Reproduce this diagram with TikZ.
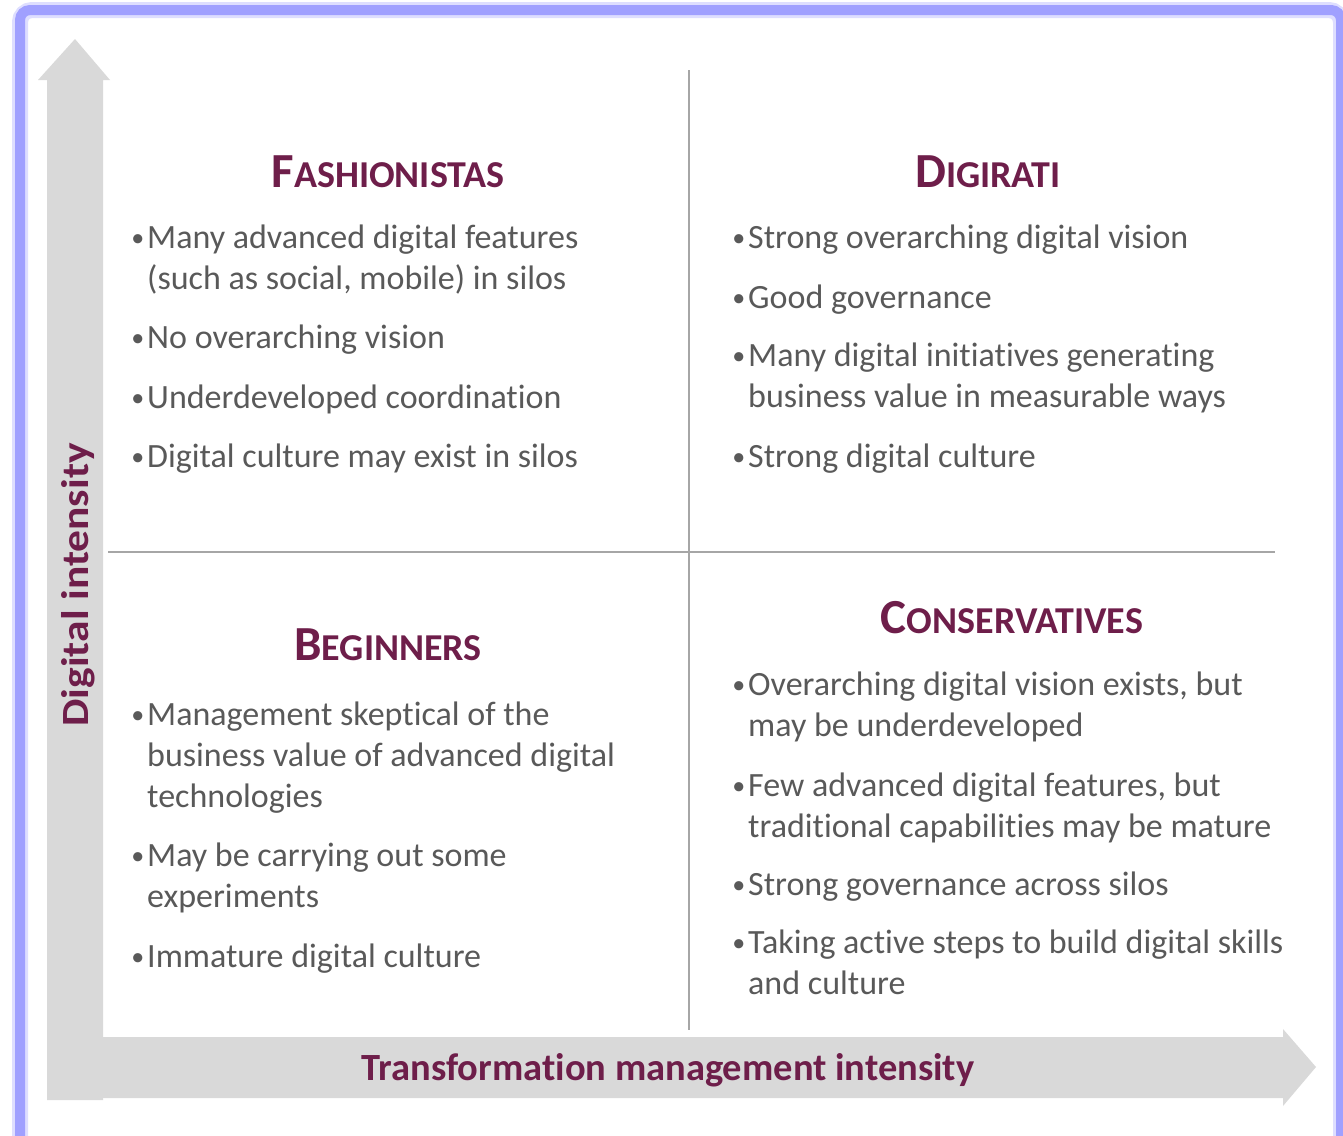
\documentclass[tikz,border=0pt]{standalone}
\usepackage{fontspec}
\setmainfont{Carlito}[RawFeature={-liga;-clig;-calt;-dlig;-rlig}]
\usepackage{xcolor}
\usetikzlibrary{positioning}

\definecolor{framebl}{HTML}{A0A0FF}
\definecolor{arrowgr}{HTML}{D9D9D9}
\definecolor{linegr}{HTML}{A6A6A6}
\definecolor{titlered}{HTML}{6E1E4A}
\definecolor{textgray}{HTML}{595959}

\newcommand{\bul}{\makebox[0pt][r]{\raisebox{1.5pt}{\fontsize{26}{26}\selectfont\textbullet}\hspace{3pt}}}
\newcommand{\quadtitle}[2]{{\fontsize{49}{50}\selectfont #1}{\fontsize{38}{40}\selectfont #2}}

\begin{document}
\begin{tikzpicture}[
    x=1pt, y=-1pt,
    title/.style={font=\bfseries, text=titlered, inner sep=0pt},
    item/.style={anchor=base west, align=left, inner sep=0pt, text=textgray,
        font=\fontsize{34}{41}\selectfont},
    axislabel/.style={font=\bfseries\fontsize{38.5}{40}\selectfont, text=titlered, inner sep=0pt},
    divider/.style={draw=linegr, line width=2pt}
]
\useasboundingbox (0,0) rectangle (1343,1135);

% frame
\begin{scope}
\clip (0,0) rectangle (1343,1135);
\draw[framebl!35, line width=16pt, rounded corners=12pt] (20,10) rectangle (1341,1170);
\draw[framebl, line width=10pt, rounded corners=10pt] (20,10) rectangle (1341,1170);
\end{scope}

% axes
\fill[arrowgr] (47,1100) -- (47,80) -- (38,80) -- (75,39) -- (110,80) -- (103,80) -- (103,1100) -- cycle;
\fill[arrowgr] (47,1037) -- (1283,1037) -- (1283,1029) -- (1316,1067) -- (1283,1106) -- (1283,1098) -- (47,1098) -- cycle;
\node[axislabel, rotate=90] (yaxis) at (78,585) {\scalebox{1.13}[1]{Digital intensity}};
\node[axislabel] (xaxis) at (668,1070) {Transformation management intensity};

% quadrant dividers
\draw[divider] (689,70) -- (689,1030);
\draw[divider] (108,552) -- (1275,552);

% Fashionistas
\node[title] (fash) at (388,172) {\quadtitle{F}{ASHIONISTAS}};
\node[item] (fash1) at (147,289) {\bul Many advanced digital features\\(such as social, mobile) in silos};
\node[item] (fash2) at (147,348) {\bul No overarching vision};
\node[item] (fash3) at (147,408) {\bul Underdeveloped coordination};
\node[item] (fash4) at (147,467) {\bul Digital culture may exist in silos};

% Digirati
\node[title] (digi) at (988,172) {\quadtitle{D}{IGIRATI}};
\node[item] (digi1) at (748,248) {\bul Strong overarching digital vision};
\node[item] (digi2) at (748,308) {\bul Good governance};
\node[item] (digi3) at (748,407) {\bul Many digital initiatives generating\\business value in measurable ways};
\node[item] (digi4) at (748,467) {\bul Strong digital culture};

% Beginners
\node[title] (begin) at (388,645) {\quadtitle{B}{EGINNERS}};
\node[item] (begin1) at (147,807) {\bul Management skeptical of the\\business value of advanced digital\\technologies};
\node[item] (begin2) at (147,907) {\bul May be carrying out some\\experiments};
\node[item] (begin3) at (147,967) {\bul Immature digital culture};

% Conservatives
\node[title] (cons) at (1012,618) {\quadtitle{C}{ONSERVATIVES}};
\node[item] (cons1) at (748,736) {\bul Overarching digital vision exists, but\\may be underdeveloped};
\node[item] (cons2) at (748,837) {\bul Few advanced digital features, but\\traditional capabilities may be mature};
\node[item] (cons3) at (748,895) {\bul Strong governance across silos};
\node[item] (cons4) at (748,994) {\bul Taking active steps to build digital skills\\and culture};

\end{tikzpicture}
\end{document}
